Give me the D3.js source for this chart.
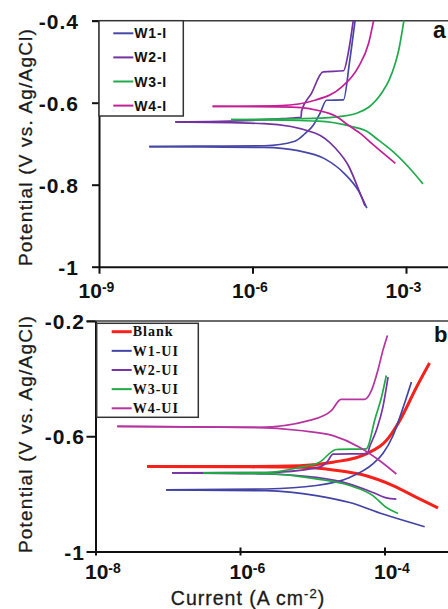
<!DOCTYPE html>
<html>
<head>
<meta charset="utf-8">
<script src="https://cdn.jsdelivr.net/npm/d3@7"></script>
<style>
body { margin: 0; background: #fff }
svg { display: block }
</style>
</head>
<body>
<div id="chart"></div>
<script>
// [current A cm-2, potential V]  -- panel a, inhibited
var w1iCath = [[9.6e-9,-0.707],[1.0e-7,-0.708],[1.7e-6,-0.709],[7.8e-6,-0.717],[2.6e-5,-0.737],[6.4e-5,-0.774],[1.18e-4,-0.815],[1.72e-4,-0.857]]
var w1iAnod = [[9.6e-9,-0.707],[1.0e-7,-0.706],[1.7e-6,-0.705],[6.7e-6,-0.694],[1.05e-5,-0.676],[1.54e-5,-0.655],[2.07e-5,-0.627],[2.8e-5,-0.594],[6.0e-5,-0.593],[7.9e-5,-0.50],[1.01e-4,-0.40]]
var w2iCath = [[3.1e-8,-0.647],[1.7e-6,-0.651],[1.66e-5,-0.674],[4.1e-5,-0.71],[7.6e-5,-0.755],[1.17e-4,-0.81],[1.58e-4,-0.852]]
var w2iAnod = [[3.1e-8,-0.647],[1.0e-6,-0.643],[5.0e-6,-0.638],[8.9e-6,-0.636],[9.1e-6,-0.62],[1.41e-5,-0.578],[2.4e-5,-0.525],[6.0e-5,-0.522],[7.6e-5,-0.472],[9.3e-5,-0.40]]
var w3iCath = [[3.8e-7,-0.641],[1.93e-5,-0.645],[8.7e-5,-0.658],[1.6e-4,-0.668],[2.95e-4,-0.692],[5.3e-4,-0.717],[1.14e-3,-0.758],[2.15e-3,-0.798]]
var w3iAnod = [[3.8e-7,-0.641],[1.0e-5,-0.639],[4.1e-5,-0.635],[1.12e-4,-0.625],[1.86e-4,-0.611],[3.4e-4,-0.575],[4.6e-4,-0.547],[6.3e-4,-0.5],[7.2e-4,-0.472],[9.1e-4,-0.40]]
var w4iCath = [[1.66e-7,-0.609],[3.2e-6,-0.610],[9.1e-6,-0.612],[1.93e-5,-0.619],[4.1e-5,-0.632],[7.5e-5,-0.655],[1.37e-4,-0.678],[2.16e-4,-0.700],[6.2e-4,-0.748]]
var w4iAnod = [[1.66e-7,-0.609],[3.6e-6,-0.607],[1.66e-5,-0.594],[5.5e-5,-0.562],[1.17e-4,-0.513],[1.86e-4,-0.455],[2.33e-4,-0.40]]

// panel b, uninhibited
var blankCath = [[5.2e-8,-0.705],[1.0e-6,-0.706],[6.7e-6,-0.708],[1.94e-5,-0.717],[5.6e-5,-0.737],[1.31e-4,-0.771],[2.77e-4,-0.812],[5.5e-4,-0.849]]
var blankAnod = [[5.2e-8,-0.705],[1.0e-6,-0.705],[6.7e-6,-0.702],[1.94e-5,-0.690],[5.6e-5,-0.661],[1.06e-4,-0.615],[1.63e-4,-0.545],[2.77e-4,-0.430],[4.2e-4,-0.346]]
var w1uiCath = [[9.5e-8,-0.786],[2.3e-6,-0.789],[1.14e-5,-0.806],[3.3e-5,-0.830],[9.5e-5,-0.870],[3.6e-4,-0.914]]
var w1uiAnod = [[9.5e-8,-0.786],[2.3e-6,-0.783],[1.14e-5,-0.771],[3.3e-5,-0.743],[6.9e-5,-0.696],[9.5e-5,-0.660],[1.3e-4,-0.600],[1.63e-4,-0.534],[2.36e-4,-0.412]]
var w2uiCath = [[1.15e-7,-0.727],[2.3e-6,-0.731],[1.14e-5,-0.743],[3.3e-5,-0.766],[6.9e-5,-0.795],[1.06e-4,-0.814],[1.46e-4,-0.818]]
var w2uiAnod = [[1.15e-7,-0.727],[2.3e-6,-0.726],[1.14e-5,-0.710],[1.6e-5,-0.690],[1.94e-5,-0.662],[5.8e-5,-0.660],[6.2e-5,-0.638],[7.7e-5,-0.580],[9.5e-5,-0.499],[1.12e-4,-0.395]]
var w3uiCath = [[3.1e-7,-0.727],[2.3e-6,-0.730],[1.14e-5,-0.748],[3.3e-5,-0.771],[6.9e-5,-0.806],[1.06e-4,-0.847],[1.54e-4,-0.868]]
var w3uiAnod = [[3.1e-7,-0.727],[2.3e-6,-0.726],[6.7e-6,-0.708],[1.26e-5,-0.690],[2.16e-5,-0.646],[5.6e-5,-0.644],[5.9e-5,-0.636],[7.3e-5,-0.545],[9.1e-5,-0.464],[1.06e-4,-0.389]]
var w4uiCath = [[2.0e-8,-0.566],[1.36e-6,-0.569],[6.7e-6,-0.580],[1.94e-5,-0.598],[4.5e-5,-0.638],[8.6e-5,-0.685],[1.46e-4,-0.731]]
var w4uiAnod = [[2.0e-8,-0.566],[1.87e-6,-0.569],[9.2e-6,-0.545],[1.84e-5,-0.511],[2.5e-5,-0.472],[5.3e-5,-0.472],[6.6e-5,-0.441],[8.1e-5,-0.371],[9.5e-5,-0.302],[1.1e-4,-0.250]]

var namesA = ["W1-I", "W2-I", "W3-I", "W4-I"]
var colorsA = ["#4747a8", "#7232a0", "#1fab4c", "#c41f96"]
var namesB = ["Blank", "W1-UI", "W2-UI", "W3-UI", "W4-UI"]
var colorsB = ["#f5221c", "#4343a6", "#7634a6", "#1faa45", "#b5349f"]

var xTicksA = [1e-9, 1e-6, 1e-3]
var yTicksA = [-0.4, -0.6, -0.8, -1]
var xTicksB = [1e-8, 1e-6, 1e-4]
var yTicksB = [-0.2, -0.6, -1]

var W = 448, H = 609
var sans = "'Liberation Sans', Arial, sans-serif"
var serif = "'Liberation Serif', 'Times New Roman', serif"

var svg = d3.select("#chart").append("svg")
    .attr("width", W)
    .attr("height", H)

svg.append("rect").attr("width", W).attr("height", H).attr("fill", "#fff")

function drawPanel(p) {
	var g = svg.append("g")
	var x = p.x, y = p.y
	var x0 = x.range()[0]
	var yBot = y.range()[0], yTop = y.range()[1]

	// top frame line
	g.append("line")
		.attr("x1", x0 - p.yTick).attr("x2", W)
		.attr("y1", yTop).attr("y2", yTop)
		.attr("stroke", "#3a3a3a").attr("stroke-width", 1.6)

	var line = d3.line()
		.x(function(d) { return x(d[0]) })
		.y(function(d) { return y(d[1]) })
		.curve(d3.curveMonotoneX)

	p.series.forEach(function(s) {
		[s.cath, s.anod].forEach(function(pts) {
			g.append("path")
				.datum(pts)
				.attr("d", line)
				.attr("fill", "none")
				.attr("stroke", s.color)
				.attr("stroke-width", s.width)
				.attr("stroke-linejoin", "round")
		})
	})

	// x axis, stretched to the right edge
	var xAxisScale = x.copy().domain([x.domain()[0], x.invert(W + 2)]).range([x0, W + 2])
	var xa = g.append("g")
		.attr("transform", "translate(0," + yBot + ")")
		.call(d3.axisBottom(xAxisScale).tickValues(p.xTicks).tickSizeOuter(0).tickSizeInner(p.xTick).tickFormat(""))
	xa.select(".domain").attr("stroke", "#111").attr("stroke-width", 2)
	xa.selectAll(".tick line").attr("stroke", "#111").attr("stroke-width", 2)
	if (p.xTickCross) xa.selectAll(".tick line").attr("y1", -4).attr("y2", 4)
	xa.selectAll(".tick text")
		.attr("y", p.xLabelY).attr("dy", null)
		.attr("x", p.xLabelDx)
		.attr("text-anchor", p.xAnchor)
		.attr("fill", "#111")
		.style("font-family", sans).style("font-weight", "bold").style("font-size", "21px")
		.each(function(d) {
			var t = d3.select(this)
			t.append("tspan").text("10")
			t.append("tspan").attr("dy", p.supDy).style("font-size", "14px").text(Math.round(Math.log10(d)))
		})

	var ya = g.append("g")
		.attr("transform", "translate(" + x0 + ",0)")
		.call(d3.axisLeft(y).tickValues(p.yTicks).tickSizeOuter(0).tickSizeInner(p.yTick).tickFormat(function(d) { return String(d) }))
	ya.select(".domain").attr("stroke", "#111").attr("stroke-width", 2)
	ya.selectAll(".tick line").attr("stroke", "#111").attr("stroke-width", 2)
	ya.selectAll(".tick text")
		.attr("x", -(p.yTick + p.yLabelGap))
		.attr("dy", "0.36em")
		.attr("fill", "#111")
		.style("font-family", sans).style("font-weight", "bold").style("font-size", "21px")
		.style("letter-spacing", "1px")

	// y title
	g.append("text")
		.attr("transform", "translate(31.5," + p.titleY + ") rotate(-90)")
		.attr("text-anchor", "middle")
		.attr("fill", "#1a1a1a")
		.style("font-family", sans).style("font-size", "19px").style("letter-spacing", "1.2px")
		.style("stroke", "#1a1a1a").style("stroke-width", "0.3px")
		.text("Potential (V vs. Ag/AgCl)")

	// panel letter
	g.append("text")
		.attr("x", p.letterX).attr("y", p.letterY)
		.attr("fill", "#111")
		.style("font-family", sans).style("font-weight", "bold").style("font-size", p.letterSize + "px")
		.text(p.letter)

	// legend
	var L = p.legend
	var lg = g.append("g")
	lg.append("rect")
		.attr("x", L.x).attr("y", L.y).attr("width", L.w).attr("height", L.h)
		.attr("fill", "#fff").attr("stroke", "#333").attr("stroke-width", 1.5)
	var items = lg.selectAll(".item")
		.data(p.series)
		.enter()
		.append("g")
		.attr("class", "item")
		.attr("transform", function(d, i) { return "translate(0," + (L.first + i * L.step) + ")" })
	items.append("line")
		.attr("x1", L.lx1).attr("x2", L.lx2)
		.attr("stroke", function(d) { return d.color })
		.attr("stroke-width", function(d) { return d.width > 2 ? 3 : 2 })
	items.append("text")
		.attr("x", L.tx).attr("y", L.dy)
		.attr("fill", "#111")
		.style("font-family", L.font).style("font-weight", "bold").style("font-size", "14px")
		.style("letter-spacing", L.spacing)
		.text(function(d) { return d.name })
}

var seriesA = [[w1iCath, w1iAnod], [w2iCath, w2iAnod], [w3iCath, w3iAnod], [w4iCath, w4iAnod]].map(function(c, i) {
	return {name: namesA[i], color: colorsA[i], width: 1.7, cath: c[0], anod: c[1]}
})
var seriesB = [[blankCath, blankAnod], [w1uiCath, w1uiAnod], [w2uiCath, w2uiAnod], [w3uiCath, w3uiAnod], [w4uiCath, w4uiAnod]].map(function(c, i) {
	return {name: namesB[i], color: colorsB[i], width: i == 0 ? 3 : 1.7, cath: c[0], anod: c[1]}
})

drawPanel({
	x: d3.scaleLog().domain([1e-9, 1e-3]).range([99, 406]),
	y: d3.scaleLinear().domain([-1, -0.4]).range([266.7, 20.7]),
	xTicks: xTicksA, yTicks: yTicksA,
	xTick: 7, xTickCross: false, xLabelY: 31, xLabelDx: -3, xAnchor: "middle", supDy: -6,
	yTick: 7, yLabelGap: 13,
	titleY: 147, letter: "a", letterX: 433, letterY: 38, letterSize: 23,
	series: seriesA,
	legend: {x: 99, y: 20.7, w: 84.3, h: 95.3, first: 33.3, step: 24.1, lx1: 113.3, lx2: 133.3, tx: 134.3, dy: 5, font: sans, spacing: "0.8px"}
})

drawPanel({
	x: d3.scaleLog().domain([1e-8, 1e-4]).range([95.5, 384.5]),
	y: d3.scaleLinear().domain([-1, -0.2]).range([551.5, 321]),
	xTicks: xTicksB, yTicks: yTicksB,
	xTick: 4, xTickCross: true, xLabelY: 27, xLabelDx: -11, xAnchor: "start", supDy: -6,
	yTick: 9, yLabelGap: 1.5,
	titleY: 434, letter: "b", letterX: 434, letterY: 341.7, letterSize: 22,
	series: seriesB,
	legend: {x: 96.7, y: 323.3, w: 101.6, h: 94, first: 331.7, step: 19.15, lx1: 111.7, lx2: 131.7, tx: 132.7, dy: 4.7, font: serif, spacing: "1px"}
})

// x title
var xt = svg.append("text")
	.attr("x", 248).attr("y", 605)
	.attr("text-anchor", "middle")
	.attr("fill", "#1a1a1a")
	.style("font-family", sans).style("font-size", "19.5px").style("letter-spacing", "1px")
	.style("stroke", "#1a1a1a").style("stroke-width", "0.3px")
xt.append("tspan").text("Current (A cm")
xt.append("tspan").attr("dy", -7).style("font-size", "13px").text("-2")
xt.append("tspan").attr("dy", 7).text(")")
</script>
</body>
</html>
